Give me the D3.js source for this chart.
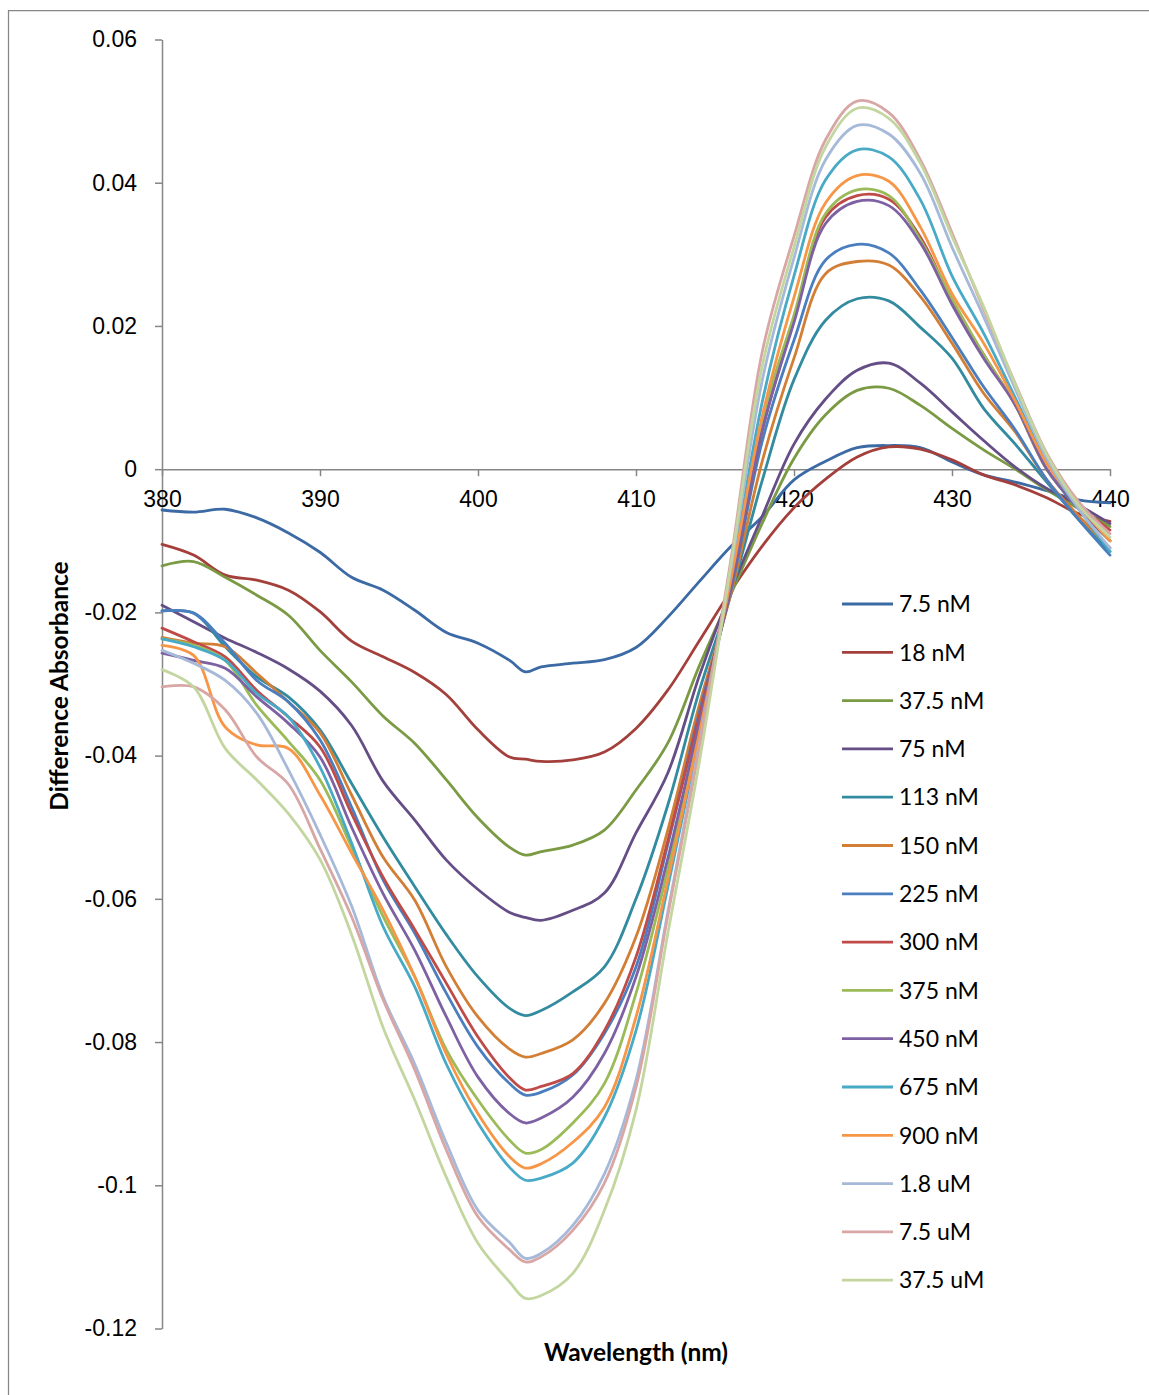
<!DOCTYPE html>
<html>
<head>
<meta charset="utf-8">
<script src="https://cdn.jsdelivr.net/npm/d3@7"></script>
<style>
  html, body { margin: 0; padding: 0; background: #fff; }
  svg { display: block; font-family: Lato, "Open Sans", sans-serif; }
</style>
</head>
<body>
<svg id="chart" width="1149" height="1395"></svg>
<script>
// Difference absorption spectra, one line per concentration.
const wavelengths = [380, 382, 384, 386, 388, 390, 392, 394, 396, 398, 400, 402, 403, 404, 406, 408, 410,
  412, 414, 416, 418, 420, 422, 424, 426, 428, 430, 432, 434, 436, 438, 440];

const seriesNames = ['7.5 nM', '18 nM', '37.5 nM', '75 nM', '113 nM', '150 nM', '225 nM', '300 nM',
  '375 nM', '450 nM', '675 nM', '900 nM', '1.8 uM', '7.5 uM', '37.5 uM'];

const seriesColors = ['#3C6AA4', '#A4403C', '#7A9A43', '#654D86', '#338BA0', '#D37E35', '#4A7EBF', '#BF4B48',
  '#9BBB59', '#7D61A2', '#48AAC6', '#F79646', '#A6B9D8', '#D8A6A5', '#C3D6A0'];

const c7_5nM = [-0.0057, -0.0060, -0.0056, -0.0068, -0.0089, -0.0116, -0.0151, -0.0169, -0.0197, -0.0228, -0.0243,
  -0.0267, -0.0283, -0.0276, -0.0271, -0.0266, -0.0249, -0.0207, -0.0157, -0.0108, -0.0066, -0.0015, 0.0011, 0.0030,
  0.0033, 0.0030, 0.0010, -0.0008, -0.0018, -0.0030, -0.0043, -0.0047];
const c18nM = [-0.0105, -0.0120, -0.0148, -0.0155, -0.0169, -0.0199, -0.0240, -0.0262, -0.0284, -0.0315, -0.0364,
  -0.0402, -0.0405, -0.0408, -0.0406, -0.0395, -0.0362, -0.0309, -0.0240, -0.0170, -0.0107, -0.0054, -0.0014, 0.0017,
  0.0031, 0.0028, 0.0013, -0.0008, -0.0022, -0.0040, -0.0062, -0.0073];
const c37_5nM = [-0.0135, -0.0129, -0.0151, -0.0176, -0.0204, -0.0253, -0.0297, -0.0345, -0.0383, -0.0434, -0.0487,
  -0.0528, -0.0539, -0.0534, -0.0525, -0.0504, -0.0448, -0.0383, -0.0275, -0.0175, -0.0075, 0.0015, 0.0076, 0.0110,
  0.0113, 0.0089, 0.0057, 0.0027, 0.0000, -0.0029, -0.0055, -0.0080];
const c75nM = [-0.0190, -0.0213, -0.0236, -0.0256, -0.0279, -0.0310, -0.0358, -0.0436, -0.0490, -0.0546, -0.0587,
  -0.0619, -0.0626, -0.0630, -0.0616, -0.0592, -0.0508, -0.0425, -0.0289, -0.0170, -0.0065, 0.0035, 0.0098, 0.0138,
  0.0148, 0.0120, 0.0080, 0.0040, 0.0003, -0.0027, -0.0050, -0.0076];
const c113nM = [-0.0198, -0.0201, -0.0248, -0.0290, -0.0318, -0.0364, -0.0439, -0.0514, -0.0583, -0.0650, -0.0709,
  -0.0753, -0.0763, -0.0756, -0.0730, -0.0695, -0.0600, -0.0470, -0.0310, -0.0175, -0.0015, 0.0125, 0.0208, 0.0238,
  0.0235, 0.0198, 0.0155, 0.0085, 0.0035, -0.0018, -0.0070, -0.0115];
const c150nM = [-0.0235, -0.0243, -0.0248, -0.0285, -0.0325, -0.0368, -0.0455, -0.0542, -0.0602, -0.0695, -0.0765,
  -0.0810, -0.0821, -0.0816, -0.0797, -0.0746, -0.0653, -0.0505, -0.0330, -0.0175, 0.0012, 0.0155, 0.0273, 0.0290,
  0.0285, 0.0241, 0.0176, 0.0106, 0.0052, -0.0015, -0.0065, -0.0110];
const c225nM = [-0.0198, -0.0201, -0.0243, -0.0295, -0.0325, -0.0378, -0.0472, -0.0574, -0.0648, -0.0732, -0.0807,
  -0.0858, -0.0874, -0.0870, -0.0846, -0.0788, -0.0695, -0.0525, -0.0340, -0.0170, 0.0040, 0.0180, 0.0292, 0.0314,
  0.0302, 0.0250, 0.0184, 0.0115, 0.0055, -0.0015, -0.0070, -0.0120];
const c300nM = [-0.0222, -0.0241, -0.0262, -0.0309, -0.0346, -0.0388, -0.0481, -0.0570, -0.0643, -0.0718, -0.0793,
  -0.0850, -0.0867, -0.0862, -0.0844, -0.0784, -0.0681, -0.0520, -0.0345, -0.0165, 0.0055, 0.0210, 0.0352, 0.0382,
  0.0377, 0.0324, 0.0235, 0.0160, 0.0090, 0.0000, -0.0050, -0.0085];
const c375nM = [-0.0237, -0.0246, -0.0267, -0.0330, -0.0380, -0.0434, -0.0528, -0.0625, -0.0709, -0.0811, -0.0881,
  -0.0937, -0.0955, -0.0950, -0.0913, -0.0858, -0.0732, -0.0560, -0.0360, -0.0160, 0.0070, 0.0215, 0.0357, 0.0390,
  0.0382, 0.0320, 0.0238, 0.0160, 0.0090, 0.0000, -0.0055, -0.0100];
const c450nM = [-0.0257, -0.0267, -0.0278, -0.0318, -0.0355, -0.0402, -0.0500, -0.0593, -0.0672, -0.0765, -0.0849,
  -0.0900, -0.0913, -0.0906, -0.0877, -0.0816, -0.0709, -0.0545, -0.0355, -0.0165, 0.0055, 0.0205, 0.0343, 0.0374,
  0.0368, 0.0316, 0.0230, 0.0155, 0.0090, 0.0000, -0.0055, -0.0100];
const c675nM = [-0.0237, -0.0248, -0.0267, -0.0313, -0.0346, -0.0416, -0.0522, -0.0639, -0.0723, -0.0831, -0.0913,
  -0.0975, -0.0993, -0.0990, -0.0969, -0.0905, -0.0784, -0.0585, -0.0375, -0.0150, 0.0095, 0.0270, 0.0404, 0.0446,
  0.0436, 0.0376, 0.0270, 0.0190, 0.0100, 0.0010, -0.0055, -0.0115];
const c900nM = [-0.0246, -0.0260, -0.0360, -0.0385, -0.0390, -0.0455, -0.0536, -0.0616, -0.0709, -0.0817, -0.0900,
  -0.0960, -0.0976, -0.0970, -0.0940, -0.0891, -0.0765, -0.0575, -0.0370, -0.0155, 0.0075, 0.0240, 0.0372, 0.0410,
  0.0402, 0.0338, 0.0245, 0.0176, 0.0095, 0.0008, -0.0050, -0.0100];
const c1_8uM = [-0.0253, -0.0271, -0.0295, -0.0341, -0.0420, -0.0510, -0.0610, -0.0737, -0.0831, -0.0941, -0.1035,
  -0.1080, -0.1102, -0.1095, -0.1056, -0.0984, -0.0853, -0.0620, -0.0385, -0.0140, 0.0125, 0.0295, 0.0432, 0.0480,
  0.0468, 0.0413, 0.0310, 0.0213, 0.0112, 0.0015, -0.0055, -0.0110];
const c7_5uM = [-0.0304, -0.0304, -0.0336, -0.0402, -0.0440, -0.0530, -0.0625, -0.0741, -0.0839, -0.0951, -0.1044,
  -0.1090, -0.1107, -0.1100, -0.1063, -0.0997, -0.0863, -0.0625, -0.0390, -0.0127, 0.0165, 0.0325, 0.0460, 0.0514,
  0.0498, 0.0432, 0.0330, 0.0223, 0.0120, 0.0022, -0.0045, -0.0090];
const c37_5uM = [-0.0280, -0.0304, -0.0390, -0.0434, -0.0481, -0.0545, -0.0650, -0.0780, -0.0881, -0.0989, -0.1081,
  -0.1135, -0.1158, -0.1154, -0.1123, -0.1035, -0.0895, -0.0650, -0.0410, -0.0135, 0.0145, 0.0310, 0.0450, 0.0504,
  0.0490, 0.0427, 0.0325, 0.0227, 0.0118, 0.0020, -0.0050, -0.0095];

const seriesValues = [c7_5nM, c18nM, c37_5nM, c75nM, c113nM, c150nM, c225nM, c300nM,
  c375nM, c450nM, c675nM, c900nM, c1_8uM, c7_5uM, c37_5uM];

const xTicks = [380, 390, 400, 410, 420, 430, 440];
const yTicks = [-0.12, -0.1, -0.08, -0.06, -0.04, -0.02, 0, 0.02, 0.04, 0.06];

const AXIS = '#868686';
const svg = d3.select('#chart');

const x = d3.scaleLinear().domain([380, 440]).range([162, 1110]);
const y = d3.scaleLinear().domain([-0.12, 0.06]).range([1328.5, 39.5]);

// chart-area frame (only left and top edges fall inside the picture)
svg.append('path')
  .attr('d', 'M8.5,1395V10.5H1149')
  .attr('fill', 'none').attr('stroke', AXIS).attr('stroke-width', 1.25);

const fmt = d => String(+d.toFixed(2));

const yAxis = svg.append('g')
  .attr('transform', 'translate(162,0)')
  .call(d3.axisLeft(y).tickValues(yTicks).tickFormat(fmt).tickSize(7).tickSizeOuter(0).tickPadding(18));

const xAxis = svg.append('g')
  .attr('transform', `translate(0,${y(0)})`)
  .call(d3.axisBottom(x).tickValues(xTicks).tickFormat(d3.format('d')).tickSize(7).tickSizeOuter(0).tickPadding(15));

[yAxis, xAxis].forEach(g => {
  g.selectAll('path.domain, line').attr('stroke', AXIS).attr('stroke-width', 1.5);
  g.selectAll('text').attr('fill', '#000').style('font-size', '23px').attr('font-family', null);
});

// axis titles
svg.append('text')
  .attr('x', 636).attr('y', 1361)
  .attr('text-anchor', 'middle')
  .style('font-size', '24.5px').style('font-weight', 'bold')
  .text('Wavelength (nm)');

svg.append('text')
  .attr('transform', 'translate(68,686) rotate(-90)')
  .attr('text-anchor', 'middle')
  .style('font-size', '24.5px').style('font-weight', 'bold')
  .text('Difference Absorbance');

// spectra
const line = d3.line()
  .x((d, i) => x(wavelengths[i]))
  .y(d => y(d))
  .curve(d3.curveCatmullRom.alpha(0.5));

svg.append('g').selectAll('path')
  .data(seriesValues)
  .join('path')
  .attr('d', line)
  .attr('fill', 'none')
  .attr('stroke', (d, i) => seriesColors[i])
  .attr('stroke-width', 2.8)
  .attr('stroke-linejoin', 'round')
  .attr('stroke-linecap', 'round');

// legend
const legend = svg.append('g').selectAll('g')
  .data(seriesNames)
  .join('g')
  .attr('transform', (d, i) => `translate(842,${604 + i * 48.3})`);

legend.append('line')
  .attr('x1', 0).attr('x2', 51)
  .attr('stroke', (d, i) => seriesColors[i])
  .attr('stroke-width', 2.8);

legend.append('text')
  .attr('x', 57).attr('dy', '0.36em')
  .style('font-size', '23px')
  .text(d => d);
</script>
</body>
</html>
